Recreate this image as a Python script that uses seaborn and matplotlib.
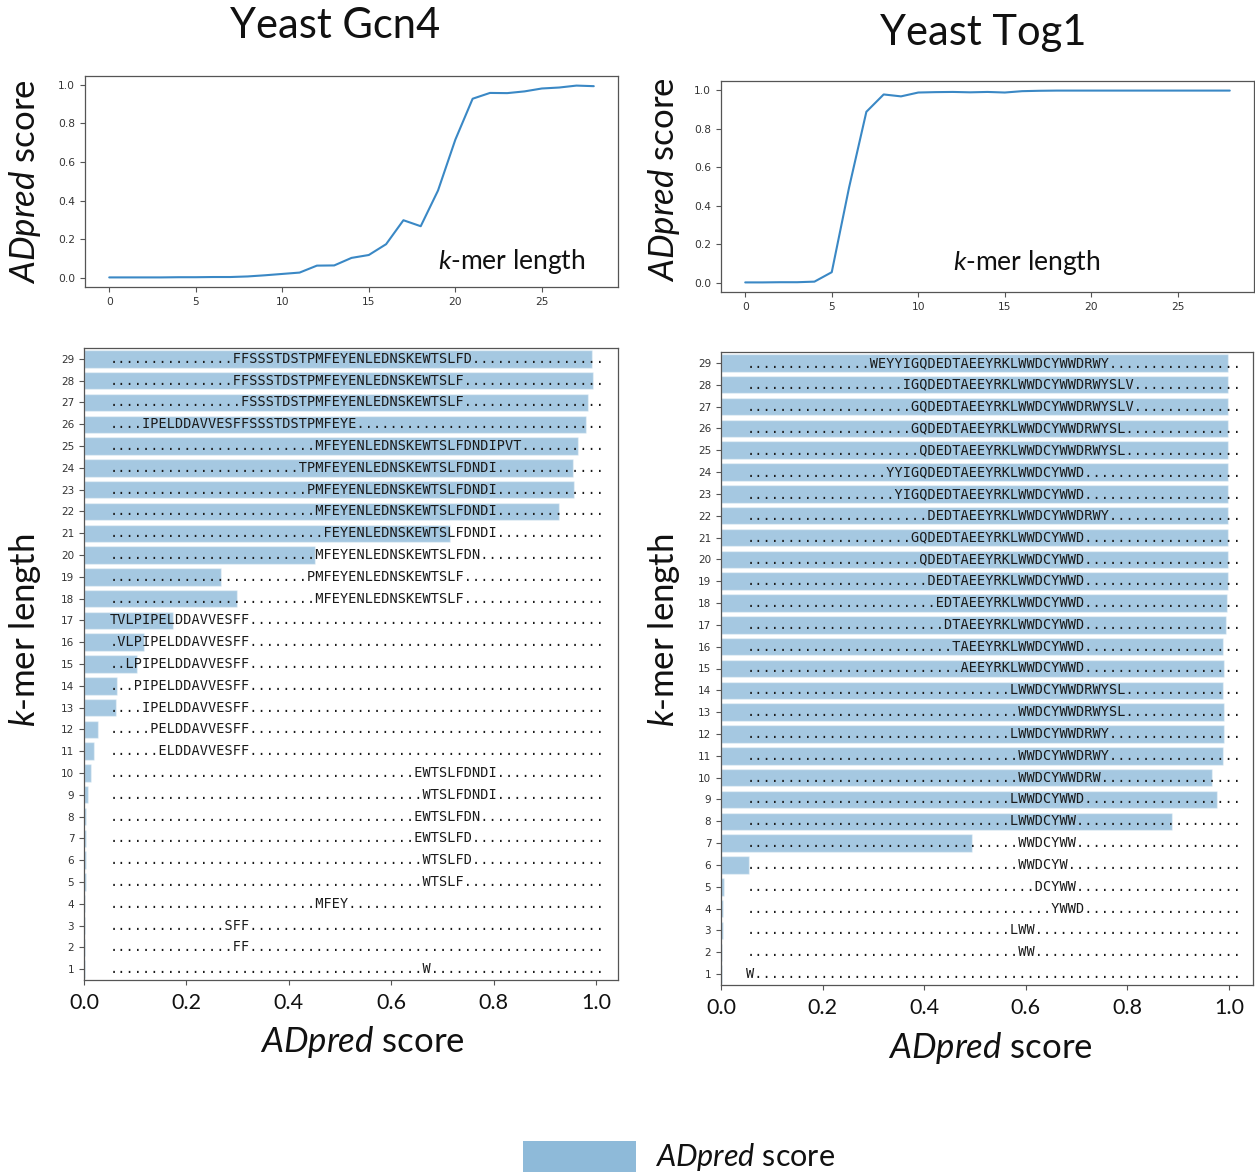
import matplotlib
matplotlib.use('Agg')
import matplotlib.pyplot as plt
import pandas as pd
import seaborn as sns
from matplotlib.patches import Patch

# k-mer lengths and best ADpred score per length
kmer_len = list(range(1, 30))

gcn4_score = [0.002, 0.002, 0.002, 0.002, 0.003, 0.003, 0.004, 0.004, 0.007, 0.013,
              0.020, 0.027, 0.063, 0.064, 0.103, 0.118, 0.174, 0.298, 0.267, 0.452,
              0.715, 0.927, 0.957, 0.956, 0.965, 0.980, 0.985, 0.995, 0.992]

tog1_score = [0.002, 0.002, 0.003, 0.003, 0.006, 0.055, 0.494, 0.887, 0.977, 0.967,
              0.987, 0.989, 0.990, 0.988, 0.990, 0.987, 0.994, 0.996, 0.997, 0.997,
              0.997, 0.997, 0.997, 0.997, 0.997, 0.997, 0.997, 0.997, 0.997]

# best k-mer for each length and its offset inside the 60-residue window
gcn4_pep = ['W', 'FF', 'SFF', 'MFEY', 'WTSLF', 'WTSLFD', 'EWTSLFD', 'EWTSLFDN',
            'WTSLFDNDI', 'EWTSLFDNDI', 'ELDDAVVESFF', 'PELDDAVVESFF',
            'IPELDDAVVESFF', 'PIPELDDAVVESFF', 'LPIPELDDAVVESFF',
            'VLPIPELDDAVVESFF', 'TVLPIPELDDAVVESFF', 'MFEYENLEDNSKEWTSLF',
            'PMFEYENLEDNSKEWTSLF', 'MFEYENLEDNSKEWTSLFDN', 'FEYENLEDNSKEWTSLFDNDI',
            'MFEYENLEDNSKEWTSLFDNDI', 'PMFEYENLEDNSKEWTSLFDNDI',
            'TPMFEYENLEDNSKEWTSLFDNDI', 'MFEYENLEDNSKEWTSLFDNDIPVT',
            'IPELDDAVVESFFSSSTDSTPMFEYE', 'FSSSTDSTPMFEYENLEDNSKEWTSLF',
            'FFSSSTDSTPMFEYENLEDNSKEWTSLF', 'FFSSSTDSTPMFEYENLEDNSKEWTSLFD']
gcn4_start = [38, 15, 14, 25, 38, 38, 37, 37, 38, 37, 6, 5, 4, 3, 2, 1, 0, 25,
              24, 25, 26, 25, 24, 23, 25, 4, 16, 15, 15]

tog1_pep = ['W', 'WW', 'LWW', 'YWWD', 'DCYWW', 'WWDCYW', 'WWDCYWW', 'LWWDCYWW',
            'LWWDCYWWD', 'WWDCYWWDRW', 'WWDCYWWDRWY', 'LWWDCYWWDRWY',
            'WWDCYWWDRWYSL', 'LWWDCYWWDRWYSL', 'AEEYRKLWWDCYWWD',
            'TAEEYRKLWWDCYWWD', 'DTAEEYRKLWWDCYWWD', 'EDTAEEYRKLWWDCYWWD',
            'DEDTAEEYRKLWWDCYWWD', 'QDEDTAEEYRKLWWDCYWWD', 'GQDEDTAEEYRKLWWDCYWWD',
            'DEDTAEEYRKLWWDCYWWDRWY', 'YIGQDEDTAEEYRKLWWDCYWWD',
            'YYIGQDEDTAEEYRKLWWDCYWWD', 'QDEDTAEEYRKLWWDCYWWDRWYSL',
            'GQDEDTAEEYRKLWWDCYWWDRWYSL', 'GQDEDTAEEYRKLWWDCYWWDRWYSLV',
            'IGQDEDTAEEYRKLWWDCYWWDRWYSLV', 'WEYYIGQDEDTAEEYRKLWWDCYWWDRWY']
tog1_start = [0, 33, 32, 37, 35, 33, 33, 32, 32, 33, 33, 32, 33, 32, 26, 25, 24,
              23, 22, 21, 20, 22, 18, 17, 21, 20, 20, 19, 15]

window = 60

sns.set_style('ticks', {'axes.edgecolor': '#555555', 'xtick.color': '#555555',
                        'ytick.color': '#555555', 'text.color': '#111111'})
plt.rcParams['font.family'] = ['DejaVu Sans']
plt.rcParams['mathtext.fontset'] = 'custom'
plt.rcParams['mathtext.rm'] = 'Lato'
plt.rcParams['mathtext.it'] = 'Lato:italic'

W, H = 1255, 1172
fig = plt.figure(figsize=(W / 100, H / 100), dpi=100)

line_col = '#3a88c5'
bar_col = '#1f77b4'


def box(l, t, r, b):
    return [l / W, 1 - b / H, (r - l) / W, (b - t) / H]


def line_panel(ax, score):
    df = pd.DataFrame({'idx': [k - 1 for k in kmer_len], 'score': score})
    sns.lineplot(data=df, x='idx', y='score', ax=ax, color=line_col, lw=1.5)
    ax.set_xlabel('')
    ax.set_ylabel('')
    ax.set_xticks([0, 5, 10, 15, 20, 25])
    ax.set_yticks([0, 0.2, 0.4, 0.6, 0.8, 1.0])
    ax.tick_params(labelsize=7.7, labelcolor='#333333', width=0.8)
    for s in ax.spines.values():
        s.set_linewidth(0.9)


def bar_panel(ax, score, pep, start, xmax):
    labels = ['.' * s + p + '.' * (window - s - len(p)) for s, p in zip(start, pep)]
    df = pd.DataFrame({'k': kmer_len, 'score': score, 'label': labels})
    order = kmer_len[::-1]
    sns.barplot(data=df, x='score', y='k', order=order, orient='h', ax=ax,
                color=bar_col, saturation=1, alpha=0.4, width=0.8)
    lab = dict(zip(df['k'], df['label']))
    for i, k in enumerate(order):
        ax.text(0.05, i, lab[k], va='center', ha='left', family='DejaVu Sans Mono',
                fontsize=9.8, color='#1a1a1a')
    ax.set_xlim(0, xmax)
    ax.set_xlabel('')
    ax.set_ylabel('')
    ax.set_xticks([0, 0.2, 0.4, 0.6, 0.8, 1.0])
    ax.set_xticklabels(['0.0', '0.2', '0.4', '0.6', '0.8', '1.0'], family='Lato',
                       fontsize=15.5, color='#111111')
    ax.tick_params(axis='y', labelsize=7.5, labelcolor='#333333', width=0.8)
    ax.tick_params(axis='x', width=0.8, pad=6)
    for s in ax.spines.values():
        s.set_linewidth(0.9)


ax1 = fig.add_axes(box(85, 76, 618, 287))
line_panel(ax1, gcn4_score)
ax2 = fig.add_axes(box(721, 81, 1254, 292))
line_panel(ax2, tog1_score)

ax3 = fig.add_axes(box(84, 348, 618, 980))
bar_panel(ax3, gcn4_score, gcn4_pep, gcn4_start, 1.043)
ax4 = fig.add_axes(box(721, 352, 1253, 985))
bar_panel(ax4, tog1_score, tog1_pep, tog1_start, 1.047)

big = dict(family='Lato', ha='center', va='center', color='#111111')
score_lab = r'$\mathit{ADpred}$ score'
kmer_lab = r'$\mathit{k}$-mer length'

fig.text(335 / W, 1 - 26 / H, 'Yeast Gcn4', fontsize=30, **big)
fig.text(983 / W, 1 - 33 / H, 'Yeast Tog1', fontsize=30, **big)

fig.text(25 / W, 1 - 182 / H, score_lab, rotation=90, fontsize=25, **big)
fig.text(664 / W, 1 - 180 / H, score_lab, rotation=90, fontsize=25, **big)
fig.text(25 / W, 1 - 630 / H, kmer_lab, rotation=90, fontsize=25, **big)
fig.text(664 / W, 1 - 630 / H, kmer_lab, rotation=90, fontsize=25, **big)

fig.text(362 / W, 1 - 1042 / H, score_lab, fontsize=25, **big)
fig.text(990 / W, 1 - 1048 / H, score_lab, fontsize=25, **big)

ax1.text(0.80, 0.12, kmer_lab, transform=ax1.transAxes, fontsize=19, **big)
ax2.text(0.574, 0.14, kmer_lab, transform=ax2.transAxes, fontsize=19, **big)

fig.legend(handles=[Patch(color=bar_col, alpha=0.5, lw=0)], labels=[score_lab],
           loc='center', bbox_to_anchor=(679 / W, 1 - 1157 / H), frameon=False,
           prop={'family': 'Lato', 'size': 22}, handlelength=3.7, handleheight=1.2,
           handletextpad=0.6, borderpad=0)

fig.savefig('out.png', dpi=100)
